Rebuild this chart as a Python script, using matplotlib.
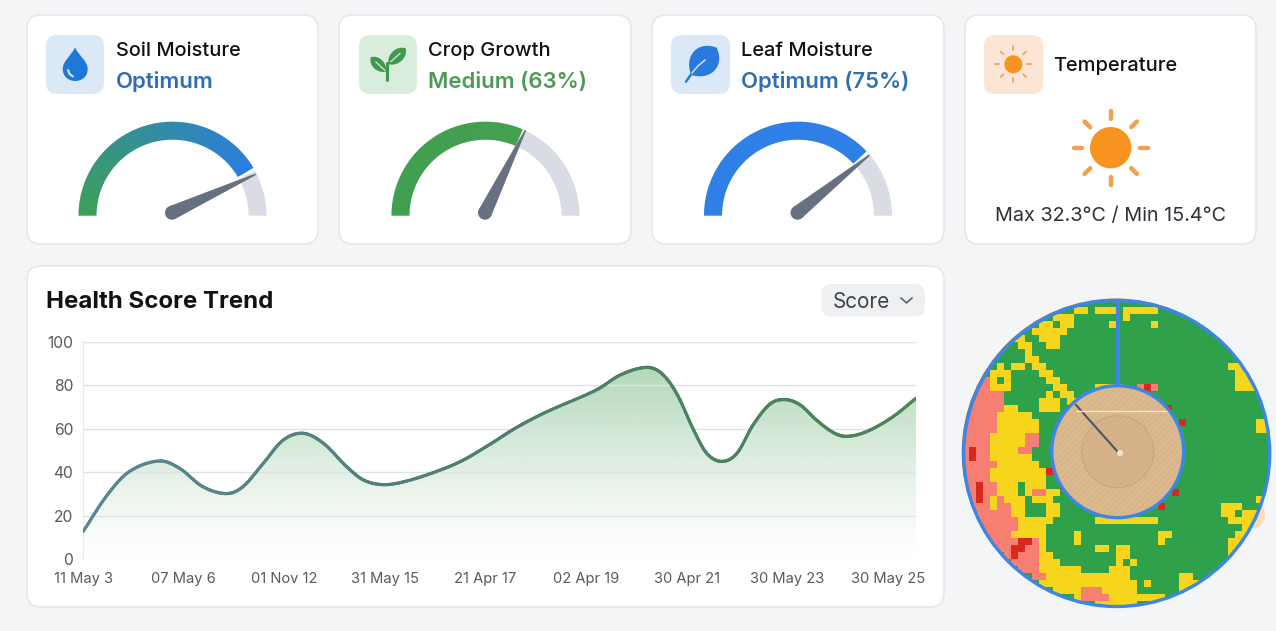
import numpy as np
from matplotlib import pyplot as plt
from matplotlib.patches import FancyBboxPatch, Circle, Wedge, Polygon, PathPatch
from matplotlib.path import Path
from matplotlib.collections import LineCollection
from matplotlib.colors import ListedColormap, to_rgb

plt.rcParams['font.family'] = ['Inter', 'DejaVu Sans']

# gauges
gauge_titles = ['Soil Moisture', 'Crop Growth', 'Leaf Moisture']
gauge_status = ['Optimum', 'Medium (63%)', 'Optimum (75%)']
gauge_fill = [0.83, 0.63, 0.76]
gauge_needle = [0.863, 0.645, 0.785]

temp_title = 'Temperature'
temp_text = 'Max 32.3°C / Min 15.4°C'

# trend
trend_title = 'Health Score Trend'
x_labels = ['11 May 3', '07 May 6', '01 Nov 12', '31 May 15', '21 Apr 17',
            '02 Apr 19', '30 Apr 21', '30 May 23', '30 May 25']
y_ticks = [0, 20, 40, 60, 80, 100]
trend_x = [0, 0.24, 0.46, 0.76, 0.96, 1.19, 1.43, 1.59, 1.79, 1.99, 2.19, 2.39, 2.62,
           2.79, 2.99, 3.22, 3.55, 3.78, 4.05, 4.31, 4.61, 5.11, 5.34, 5.60, 5.75,
           5.90, 6.07, 6.20, 6.35, 6.50, 6.66, 6.83, 6.98, 7.13, 7.29, 7.46, 7.59,
           7.79, 8.05, 8.28]
trend_y = [12.7, 29.5, 40.3, 45.2, 41.8, 33.4, 30.2, 33.4, 44, 54.8, 57.9, 53.3, 42.6,
           36.4, 34.3, 36, 41, 45.6, 53, 60.6, 67.8, 78, 84.7, 88.2, 85.5,
           76.3, 59.4, 48.7, 45, 48.7, 61.7, 71.4, 73.4, 70.9, 64, 58.2, 56.5,
           58.7, 65.5, 74]

# field map, '.' green, Y yellow, P low, R very low
field_rows = [
    "",
    "................YY.YYY.YYYYY",
    ".............YYY.......Y",
    "...........YY.YY.....Y.....Y",
    "..........YYYYY",
    ".......YY..YYY",
    "........YY..YY",
    ".........Y",
    ".........YY.........................",
    ".....Y.YY.YY..........................YY",
    "....YYY....YY..........................YY",
    "...PY.Y.....YY.........................YYY",
    "..PPYYY......YY....YYYY..PRP...........YYY",
    "..PPPP......Y.YY",
    ".PPPPP.....YYY.YY",
    "PPPPPPYY...YYY.R.............R",
    "PPPPPYYYYY",
    "PPPPPYYYYYY....................R..........YY",
    "PPPPPYYYYYY...............................YY",
    "PPPPYYYYYPP",
    "PPPPYYYYYPP",
    "PRPPYYYYPP",
    "PRPPYYYYYY",
    "PPPPPYYYYYY",
    "PPPPYYYYYYYYR",
    "PPPPYYYYYYYY",
    "PPRPPYYY.YYY..R",
    "PPRPPYYY.YPPYY................R",
    "PPRPYPYYY.YYY...R.........................Y",
    ".PPPYPPYY...YY...RR.........R........YYY",
    "..PPPPPYY...YY......RRRR.............YY.YYY",
    "..PPPPPPYYYYY......YYYYYYYYY..........YYYY",
    "...PPPPPYYYY............................YYY",
    "...PPPPYYYYY....Y...........YY.........YYY",
    "....PPPPRRPY....Y...........Y.........YYYY",
    ".....PPRRPPY.......YY.YY..............YY",
    "......PRPPPYY.........YY..............YY",
    ".......PPPPYYY........Y.Y.............Y",
    "........PPPYYYYYY....YYY",
    "..........PPYYYYYYYYYYYY.......YY",
    "...........YYYYYYYYYYYYYY.Y....YYY",
    ".............YYYYPPPYYYYY......YY",
    "................YPPPPYYYYYYYY",
    "...................YYYYYY",
]
field_codes = {'.': 0, 'Y': 1, 'P': 2, 'R': 3}
field_colors = ['#2fa14b', '#f7d51d', '#f77f72', '#d9281e']

W, H = 1276, 631
fig = plt.figure(figsize=(W / 100, H / 100), dpi=100, facecolor='#f4f5f7')
bg = fig.add_axes([0, 0, 1, 1])
bg.axis('off')


def reset_view():
    bg.set_xlim(0, W)
    bg.set_ylim(H, 0)
    bg.set_aspect('auto')


reset_view()


def mix(c1, c2, t):
    a, b = np.array(to_rgb(c1)), np.array(to_rgb(c2))
    return tuple(a + (b - a) * t)


def card(x0, y0, x1, y1, face='white', edge='#e4e6ea', r=14):
    bg.add_patch(FancyBboxPatch((x0, y0), x1 - x0, y1 - y0,
                                boxstyle='round,pad=0,rounding_size=%d' % r,
                                fc=face, ec=edge, lw=1.1, zorder=1))


def gauge(cx, cy, frac, needle, c1, c2):
    R, w = 94, 18
    end = 180 + 180 * frac
    n = 60
    edges = np.linspace(180, end, n + 1)
    for i in range(n):
        bg.add_patch(Wedge((cx, cy), R, edges[i], min(edges[i + 1] + 0.4, end), width=w,
                           fc=mix(c1, c2, i / (n - 1)), ec='none', zorder=3))
    bg.add_patch(Wedge((cx, cy), R, end + 2, 360, width=w, fc='#d9dde3', ec='none', zorder=3))
    # needle
    ang = np.pi * (1 - needle)
    hx, hy = cx - 0.5, cy - 3
    tip = np.array([hx + 92 * np.cos(ang), hy - 92 * np.sin(ang)])
    nrm = np.array([np.sin(ang), np.cos(ang)])
    hub = np.array([hx, hy])
    bg.add_patch(Polygon([hub + 7 * nrm, tip + 0.8 * nrm, tip - 0.8 * nrm, hub - 7 * nrm],
                         fc='#667080', ec='none', zorder=5))
    bg.add_patch(Circle((hx, hy), 7, fc='#667080', ec='none', zorder=5))


def leaf(base, tip, bulge, color, z=4):
    base, tip = np.array(base, float), np.array(tip, float)
    d = tip - base
    p = np.array([-d[1], d[0]]) * bulge
    verts = [base, base + 0.25 * d + p, tip - 0.2 * d + p, tip,
             tip - 0.2 * d - p, base + 0.25 * d - p, base, base]
    codes = [Path.MOVETO, Path.CURVE4, Path.CURVE4, Path.CURVE4,
             Path.CURVE4, Path.CURVE4, Path.CURVE4, Path.CLOSEPOLY]
    bg.add_patch(PathPatch(Path(verts, codes), fc=color, ec='none', zorder=z))


def sun(cx, cy, r, r0, r1, lw, ray_color):
    for a in np.arange(0, 360, 45):
        c, s = np.cos(np.radians(a)), np.sin(np.radians(a))
        bg.plot([cx + r0 * c, cx + r1 * c], [cy + r0 * s, cy + r1 * s], color=ray_color,
                lw=lw, solid_capstyle='round', zorder=4)
    bg.add_patch(Circle((cx, cy), r, fc='#f7931e', ec='none', zorder=4))


# cards
card_x = [(27, 318), (339, 631), (652, 944)]
for (x0, x1), title, status, col in zip(card_x, gauge_titles, gauge_status,
                                        ['#2f6fb0', '#4c9a57', '#2f6fb0']):
    card(x0, 15, x1, 244)
    bg.text(x0 + 89, 51, title, fontsize=14.4, color='#111111', va='center', weight=500, zorder=4)
    bg.text(x0 + 89, 82, status, fontsize=15.9, color=col, va='center', weight='semibold', zorder=4)
card(965, 15, 1256, 244)
card(27, 266, 944, 607)

# icon tiles
card(46, 35, 104, 94, '#dbe9f7', 'none', 11)
card(359, 35, 417, 94, '#d9eddc', 'none', 11)
card(671, 35, 730, 94, '#dbe9f7', 'none', 11)
card(984, 35, 1043, 94, '#fbe6d5', 'none', 11)

# drop
drop = Path([(75, 47.5), (71, 56), (62.7, 61), (62.7, 69), (62.7, 76), (68, 81), (75.2, 81),
             (82.5, 81), (87.7, 76), (87.7, 69), (87.7, 61), (79, 56), (75, 47.5), (75, 47.5)],
            [Path.MOVETO] + [Path.CURVE4] * 12 + [Path.CLOSEPOLY])
bg.add_patch(PathPatch(drop, fc='#1f78d8', ec='none', zorder=4))
bg.plot([68, 69.5, 73], [70, 74, 76.5], color='#d5e6f7', lw=1.5, solid_capstyle='round', zorder=5)

# sprout
leaf((386, 71.7), (370.7, 57.3), 0.36, '#3f9a4f')
leaf((388.3, 64.3), (405.7, 48.3), 0.36, '#3f9a4f')
bg.plot([387.3, 387.3], [80, 63], color='#3f9a4f', lw=2.2, solid_capstyle='round', zorder=4)
bg.plot([376, 385], [62, 70.5], color='#d9eddc', lw=0.9, zorder=5)
bg.plot([391, 400], [61.5, 53.5], color='#d9eddc', lw=0.9, zorder=5)

# leaf
leaf((691, 75), (716.7, 47.7), 0.5, '#2a7ade')
bg.plot([686, 692, 703], [81.7, 73, 62], color='#2a7ade', lw=1.8, solid_capstyle='round', zorder=4)
bg.plot([692, 698, 705], [73, 66, 60], color='#dbe9f7', lw=1, zorder=5)

# suns
sun(1013.3, 64.3, 9, 14, 18, 1.4, '#eeab6c')
sun(1110.7, 147.7, 20.7, 29, 37, 3.2, '#f0a050')
bg.text(1053, 66, temp_title, fontsize=14.4, color='#111111', va='center', weight=500, zorder=4)
bg.text(1110.5, 216, temp_text, fontsize=14.25, color='#2d3238', va='center', ha='center', zorder=4)

# gauges
gauge(172.5, 215.7, gauge_fill[0], gauge_needle[0], '#3d9e58', '#2a7de0')
gauge(485.5, 215.7, gauge_fill[1], gauge_needle[1], '#3f9e50', '#43a04e')
gauge(798, 215.7, gauge_fill[2], gauge_needle[2], '#2e7fe6', '#2e7fe6')

# trend header
bg.text(46, 302, trend_title, fontsize=17.3, weight='bold', color='#111111', va='center', zorder=4)
card(821.5, 284, 925, 316.5, '#eef0f2', 'none', 10)
bg.text(833, 302, 'Score', fontsize=14.9, color='#3c4248', va='center', zorder=4)
bg.plot([901, 906.5, 912], [298, 303, 298], color='#555b62', lw=1.1, zorder=4)

# trend chart
ax = fig.add_axes([83 / W, (H - 559.3) / H, 833 / W, 217.6 / H])
ax.patch.set_alpha(0)
ax.set_xlim(0, 8.28)
ax.set_ylim(0, 100)
ax.set_xticks(range(len(x_labels)))
ax.set_xticklabels(x_labels, fontsize=10.6, color='#555b62')
ax.set_yticks(y_ticks)
ax.tick_params(axis='y', labelsize=11.3, labelcolor='#555b62', length=0, pad=7)
ax.tick_params(axis='x', length=0, pad=9.5)
ax.grid(axis='y', color='#dfe2e6', lw=1)
ax.set_axisbelow(False)
for s in ['top', 'right', 'bottom']:
    ax.spines[s].set_visible(False)
ax.spines['left'].set_color('#e9ebee')

# smooth the read points, slope at a point comes from its two neighbours
px = np.array(trend_x, float)
py = np.array(trend_y, float)
slope = np.gradient(py, px)
slope[1:-1] = (py[2:] - py[:-2]) / (px[2:] - px[:-2])
verts = [(px[0], py[0])]
for i in range(len(px) - 1):
    h = px[i + 1] - px[i]
    verts.append((px[i] + h / 3, py[i] + slope[i] * h / 3))
    verts.append((px[i + 1] - h / 3, py[i + 1] - slope[i + 1] * h / 3))
    verts.append((px[i + 1], py[i + 1]))
curve = Path(verts, [Path.MOVETO] + [Path.CURVE4] * (len(verts) - 1))
ts = np.linspace(0, 1, 16)[1:]
pts = [np.array(verts[0])]
for seg, _ in curve.iter_bezier():
    pts.extend(seg(ts))
pts = np.array(pts)
pts = pts[np.concatenate([[True], np.any(np.diff(pts, axis=0) != 0, axis=1)])]
lx, ly = pts[:, 0], pts[:, 1]

fill_path = Path(np.vstack([pts, [lx[-1], 0], [lx[0], 0], pts[0]]))
rgba = np.ones((256, 2, 4))
rgba[:, :, :3] = to_rgb('#6fb57a')
rgba[:, :, 3] = np.linspace(0.55, 0, 256)[:, None] * np.linspace(1, 0, 256)[:, None] ** 0.25
im = ax.imshow(rgba, extent=(0, 8.28, 0, 90), origin='upper', aspect='auto', zorder=1)
im.set_clip_path(PathPatch(fill_path, transform=ax.transData))
ax.set_xlim(0, 8.28)
ax.set_ylim(0, 100)

segs = np.stack([np.column_stack([lx[:-1], ly[:-1]]), np.column_stack([lx[1:], ly[1:]])], axis=1)
seg_colors = [mix('#5b8791', '#4f7d70', t * 2) if t < 0.5 else mix('#4f7d70', '#4a8557', t * 2 - 1)
              for t in lx[:-1] / 8.28]
ax.add_collection(LineCollection(segs, colors=seg_colors, lw=2.3, capstyle='round', zorder=3))

# field map
cx, cy, R = 1116.7, 453.5, 153
for sx, sy, sr in [(1252, 515, 13), (1100, 600, 8)]:
    bg.add_patch(Circle((sx, sy), sr, fc='#fbdcb8', ec='none', zorder=1))
bg.add_patch(Circle((cx - 1, cy - 1), R + 1, fc='#8a7a60', ec='none', zorder=1))
grid = np.array([[field_codes[c] for c in row.ljust(44, '.')[:44]] for row in field_rows])
field = bg.imshow(grid, cmap=ListedColormap(field_colors), vmin=0, vmax=3,
                  extent=(962.3, 1270.3, 608, 300), interpolation='nearest', zorder=2)
field.set_clip_path(Circle((cx, cy), R, transform=bg.transData))
reset_view()

ix, iy, ir = 1117.7, 451.7, 66
clip = Circle((ix, iy), ir, transform=bg.transData)
bg.add_patch(Circle((ix, iy), ir, fc='#dcb98e', ec='none', zorder=3))
for off in np.arange(-90, 90, 6):
    ln, = bg.plot([ix + off - 70, ix + off + 70], [iy + 70, iy - 70], color='#c9a67c', lw=1.2,
                  alpha=0.3, zorder=3)
    ln.set_clip_path(clip)
bg.add_patch(Circle((ix, iy), 36, fc='#c9a27e', alpha=0.22, ec='#6f7f80', lw=0.8, zorder=3))
bg.plot([1076, 1117], [405, 451], color='#4c5560', lw=1.5, zorder=4)
bg.plot([1077, 1168], [411, 411], color='#f6e6cc', lw=1, zorder=4)
bg.add_patch(Circle((1120, 453), 3, fc='#efe6d6', ec='none', zorder=4))
bg.add_patch(Circle((cx, cy), R, fc='none', ec='#3b86e8', lw=2.4, zorder=5))
bg.add_patch(Circle((ix, iy), ir, fc='none', ec='#3b86e8', lw=2.4, zorder=5))
bg.plot([1118, 1118], [300, 385], color='#3b86e8', lw=3, solid_capstyle='butt', zorder=5)

fig.savefig('out.png', dpi=100, facecolor=fig.get_facecolor())
